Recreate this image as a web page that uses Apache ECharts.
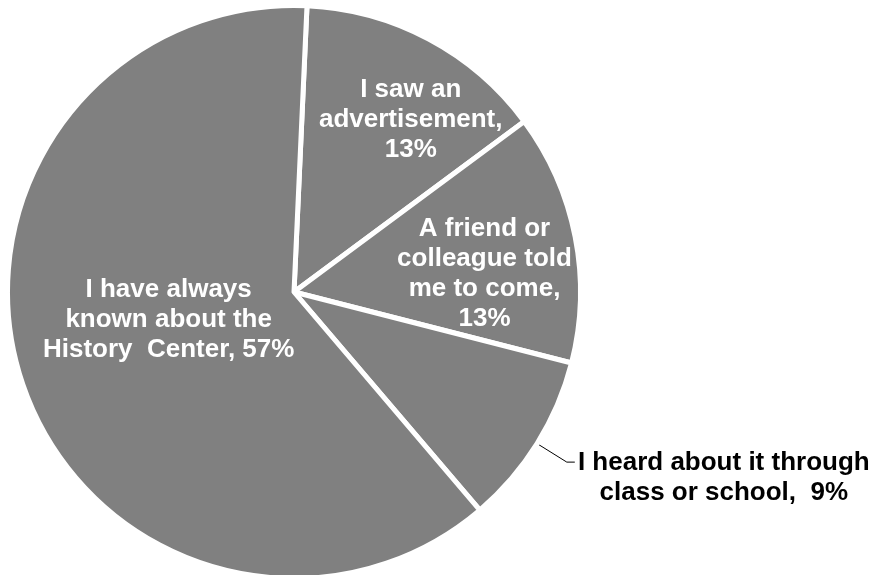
<!DOCTYPE html>
<html>
<head>
<meta charset="utf-8">
<script src="https://cdn.jsdelivr.net/npm/echarts@6/dist/echarts.min.js"></script>
<style>
  html, body { margin: 0; padding: 0; background: #ffffff; }
  #chart { width: 873px; height: 575px; }
</style>
</head>
<body>
<div id="chart"></div>
<script>
// Data
const categories = [
  'I saw an\nadvertisement',
  'A friend or\ncolleague told\nme to come',
  'I heard about it through\nclass or school',
  'I have always\nknown about the\nHistory  Center'
];
const values = [13, 13, 9, 57];
const separators = [',\n', ',\n', ',  ', ', '];

// Style-only label nudges (pixels) for the inside labels
const labelNudges = [[48, -43], [47, 10], null, [13, -20]];

const chart = echarts.init(document.getElementById('chart'), null, { renderer: 'canvas' });

const fontFamily = '"Liberation Sans", Arial, sans-serif';

const seriesData = categories.map((name, i) => {
  const item = { name: name, value: values[i] };
  if (i === 2) {
    item.label = {
      position: 'outside',
      color: '#000000',
      padding: [32, 0, 0, 0],
      distanceToLabelLine: 4,
      rich: {
        c: {
          width: 290,
          align: 'center',
          fontSize: 26,
          fontWeight: 'bold',
          lineHeight: 30,
          color: '#000000',
          fontFamily: fontFamily
        }
      }
    };
    item.labelLine = {
      show: true,
      length: 35,
      length2: 8,
      lineStyle: { color: '#000000', width: 1 }
    };
  }
  return item;
});

chart.setOption({
  animation: false,
  backgroundColor: '#ffffff',
  series: [{
    type: 'pie',
    center: [294, 292],
    radius: 286.5,
    startAngle: 87.4,
    clockwise: true,
    avoidLabelOverlap: false,
    color: ['#808080'],
    itemStyle: {
      color: '#808080',
      borderColor: '#ffffff',
      borderWidth: 5
    },
    emphasis: { disabled: true },
    label: {
      show: true,
      position: 'inside',
      color: '#ffffff',
      fontSize: 26,
      fontWeight: 'bold',
      lineHeight: 30,
      fontFamily: fontFamily,
      bleedMargin: 0,
      formatter: function (p) {
        const i = p.dataIndex;
        const text = categories[i] + separators[i] + values[i] + '%';
        if (i === 2) {
          return text.split('\n').map(l => '{c|' + l + '}').join('\n');
        }
        return text;
      }
    },
    labelLine: { show: false },
    labelLayout: function (params) {
      const n = labelNudges[params.dataIndex];
      if (!n) return {};
      return { dx: n[0], dy: n[1] };
    },
    data: seriesData
  }]
});
</script>
</body>
</html>
